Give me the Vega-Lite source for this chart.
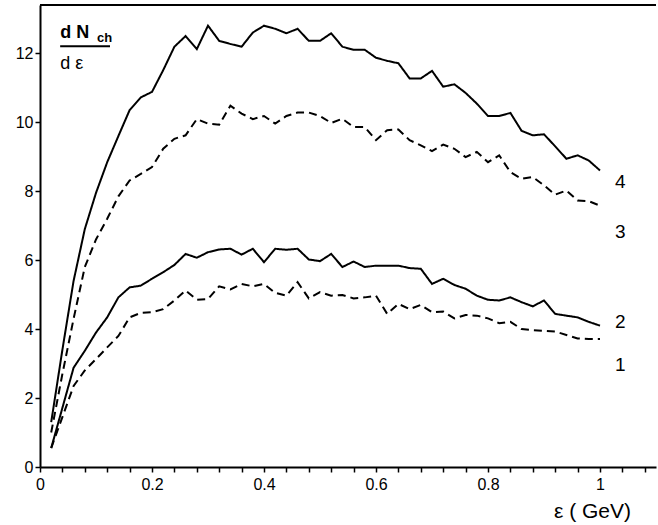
{
  "$schema": "https://vega.github.io/schema/vega-lite/v6.json",
  "width": 616,
  "height": 462,
  "autosize": "none",
  "padding": {"left": 40, "top": 5, "right": 2, "bottom": 58},
  "background": "white",
  "config": {
    "view": {"stroke": null},
    "font": "Liberation Sans",
    "axis": {
      "grid": false,
      "domainColor": "black",
      "domainWidth": 2,
      "tickColor": "black",
      "tickWidth": 1.5,
      "tickSize": 5,
      "labelFont": "Liberation Sans",
      "labelFontSize": 16,
      "labelColor": "black",
      "labelFlush": false
    }
  },
  "datasets": {
    "curves": [
      {"s": "4", "x": 0.02, "y": 1.3}, {"s": "4", "x": 0.04, "y": 3.4}, {"s": "4", "x": 0.06, "y": 5.4}, {"s": "4", "x": 0.08, "y": 6.9}, {"s": "4", "x": 0.10, "y": 7.95}, {"s": "4", "x": 0.12, "y": 8.84}, {"s": "4", "x": 0.14, "y": 9.6}, {"s": "4", "x": 0.16, "y": 10.35}, {"s": "4", "x": 0.18, "y": 10.72}, {"s": "4", "x": 0.20, "y": 10.88},
      {"s": "4", "x": 0.22, "y": 11.51}, {"s": "4", "x": 0.24, "y": 12.19}, {"s": "4", "x": 0.26, "y": 12.5}, {"s": "4", "x": 0.28, "y": 12.12}, {"s": "4", "x": 0.30, "y": 12.8}, {"s": "4", "x": 0.32, "y": 12.36}, {"s": "4", "x": 0.34, "y": 12.27}, {"s": "4", "x": 0.36, "y": 12.19}, {"s": "4", "x": 0.38, "y": 12.6}, {"s": "4", "x": 0.40, "y": 12.8},
      {"s": "4", "x": 0.42, "y": 12.71}, {"s": "4", "x": 0.44, "y": 12.58}, {"s": "4", "x": 0.46, "y": 12.71}, {"s": "4", "x": 0.48, "y": 12.36}, {"s": "4", "x": 0.50, "y": 12.36}, {"s": "4", "x": 0.52, "y": 12.58}, {"s": "4", "x": 0.54, "y": 12.19}, {"s": "4", "x": 0.56, "y": 12.1}, {"s": "4", "x": 0.58, "y": 12.1}, {"s": "4", "x": 0.60, "y": 11.87},
      {"s": "4", "x": 0.62, "y": 11.78}, {"s": "4", "x": 0.64, "y": 11.71}, {"s": "4", "x": 0.66, "y": 11.27}, {"s": "4", "x": 0.68, "y": 11.27}, {"s": "4", "x": 0.70, "y": 11.49}, {"s": "4", "x": 0.72, "y": 11.03}, {"s": "4", "x": 0.74, "y": 11.1}, {"s": "4", "x": 0.76, "y": 10.85}, {"s": "4", "x": 0.78, "y": 10.54}, {"s": "4", "x": 0.80, "y": 10.18},
      {"s": "4", "x": 0.82, "y": 10.18}, {"s": "4", "x": 0.84, "y": 10.27}, {"s": "4", "x": 0.86, "y": 9.75}, {"s": "4", "x": 0.88, "y": 9.62}, {"s": "4", "x": 0.90, "y": 9.65}, {"s": "4", "x": 0.92, "y": 9.3}, {"s": "4", "x": 0.94, "y": 8.94}, {"s": "4", "x": 0.96, "y": 9.04}, {"s": "4", "x": 0.98, "y": 8.89}, {"s": "4", "x": 1.00, "y": 8.6},

      {"s": "3", "x": 0.02, "y": 1.0}, {"s": "3", "x": 0.04, "y": 2.7}, {"s": "3", "x": 0.06, "y": 4.3}, {"s": "3", "x": 0.08, "y": 5.8}, {"s": "3", "x": 0.10, "y": 6.6}, {"s": "3", "x": 0.12, "y": 7.2}, {"s": "3", "x": 0.14, "y": 7.85}, {"s": "3", "x": 0.16, "y": 8.31}, {"s": "3", "x": 0.18, "y": 8.5}, {"s": "3", "x": 0.20, "y": 8.7},
      {"s": "3", "x": 0.22, "y": 9.23}, {"s": "3", "x": 0.24, "y": 9.52}, {"s": "3", "x": 0.26, "y": 9.62}, {"s": "3", "x": 0.28, "y": 10.09}, {"s": "3", "x": 0.30, "y": 9.96}, {"s": "3", "x": 0.32, "y": 9.93}, {"s": "3", "x": 0.34, "y": 10.48}, {"s": "3", "x": 0.36, "y": 10.25}, {"s": "3", "x": 0.38, "y": 10.09}, {"s": "3", "x": 0.40, "y": 10.18},
      {"s": "3", "x": 0.42, "y": 9.96}, {"s": "3", "x": 0.44, "y": 10.18}, {"s": "3", "x": 0.46, "y": 10.28}, {"s": "3", "x": 0.48, "y": 10.28}, {"s": "3", "x": 0.50, "y": 10.18}, {"s": "3", "x": 0.52, "y": 9.98}, {"s": "3", "x": 0.54, "y": 10.1}, {"s": "3", "x": 0.56, "y": 9.86}, {"s": "3", "x": 0.58, "y": 9.86}, {"s": "3", "x": 0.60, "y": 9.48},
      {"s": "3", "x": 0.62, "y": 9.77}, {"s": "3", "x": 0.64, "y": 9.79}, {"s": "3", "x": 0.66, "y": 9.48}, {"s": "3", "x": 0.68, "y": 9.33}, {"s": "3", "x": 0.70, "y": 9.16}, {"s": "3", "x": 0.72, "y": 9.35}, {"s": "3", "x": 0.74, "y": 9.23}, {"s": "3", "x": 0.76, "y": 8.99}, {"s": "3", "x": 0.78, "y": 9.14}, {"s": "3", "x": 0.80, "y": 8.84},
      {"s": "3", "x": 0.82, "y": 9.04}, {"s": "3", "x": 0.84, "y": 8.55}, {"s": "3", "x": 0.86, "y": 8.36}, {"s": "3", "x": 0.88, "y": 8.41}, {"s": "3", "x": 0.90, "y": 8.17}, {"s": "3", "x": 0.92, "y": 7.9}, {"s": "3", "x": 0.94, "y": 8.02}, {"s": "3", "x": 0.96, "y": 7.73}, {"s": "3", "x": 0.98, "y": 7.71}, {"s": "3", "x": 1.00, "y": 7.58},

      {"s": "2", "x": 0.02, "y": 0.55}, {"s": "2", "x": 0.06, "y": 2.88}, {"s": "2", "x": 0.08, "y": 3.37}, {"s": "2", "x": 0.10, "y": 3.9}, {"s": "2", "x": 0.12, "y": 4.34}, {"s": "2", "x": 0.14, "y": 4.92}, {"s": "2", "x": 0.16, "y": 5.21}, {"s": "2", "x": 0.18, "y": 5.26}, {"s": "2", "x": 0.20, "y": 5.46},
      {"s": "2", "x": 0.22, "y": 5.65}, {"s": "2", "x": 0.24, "y": 5.86}, {"s": "2", "x": 0.26, "y": 6.18}, {"s": "2", "x": 0.28, "y": 6.07}, {"s": "2", "x": 0.30, "y": 6.23}, {"s": "2", "x": 0.32, "y": 6.31}, {"s": "2", "x": 0.34, "y": 6.33}, {"s": "2", "x": 0.36, "y": 6.16}, {"s": "2", "x": 0.38, "y": 6.33}, {"s": "2", "x": 0.40, "y": 5.94},
      {"s": "2", "x": 0.42, "y": 6.33}, {"s": "2", "x": 0.44, "y": 6.3}, {"s": "2", "x": 0.46, "y": 6.33}, {"s": "2", "x": 0.48, "y": 6.02}, {"s": "2", "x": 0.50, "y": 5.97}, {"s": "2", "x": 0.52, "y": 6.18}, {"s": "2", "x": 0.54, "y": 5.8}, {"s": "2", "x": 0.56, "y": 5.96}, {"s": "2", "x": 0.58, "y": 5.8}, {"s": "2", "x": 0.60, "y": 5.84},
      {"s": "2", "x": 0.62, "y": 5.84}, {"s": "2", "x": 0.64, "y": 5.84}, {"s": "2", "x": 0.66, "y": 5.77}, {"s": "2", "x": 0.68, "y": 5.75}, {"s": "2", "x": 0.70, "y": 5.31}, {"s": "2", "x": 0.72, "y": 5.46}, {"s": "2", "x": 0.74, "y": 5.28}, {"s": "2", "x": 0.76, "y": 5.17}, {"s": "2", "x": 0.78, "y": 4.97}, {"s": "2", "x": 0.80, "y": 4.85},
      {"s": "2", "x": 0.82, "y": 4.83}, {"s": "2", "x": 0.84, "y": 4.92}, {"s": "2", "x": 0.86, "y": 4.78}, {"s": "2", "x": 0.88, "y": 4.66}, {"s": "2", "x": 0.90, "y": 4.83}, {"s": "2", "x": 0.92, "y": 4.44}, {"s": "2", "x": 0.94, "y": 4.39}, {"s": "2", "x": 0.96, "y": 4.34}, {"s": "2", "x": 0.98, "y": 4.21}, {"s": "2", "x": 1.00, "y": 4.1},

      {"s": "1", "x": 0.02, "y": 0.55}, {"s": "1", "x": 0.06, "y": 2.35}, {"s": "1", "x": 0.08, "y": 2.8}, {"s": "1", "x": 0.10, "y": 3.13}, {"s": "1", "x": 0.12, "y": 3.47}, {"s": "1", "x": 0.14, "y": 3.8}, {"s": "1", "x": 0.16, "y": 4.34}, {"s": "1", "x": 0.18, "y": 4.47}, {"s": "1", "x": 0.20, "y": 4.49},
      {"s": "1", "x": 0.22, "y": 4.58}, {"s": "1", "x": 0.24, "y": 4.83}, {"s": "1", "x": 0.26, "y": 5.12}, {"s": "1", "x": 0.28, "y": 4.85}, {"s": "1", "x": 0.30, "y": 4.87}, {"s": "1", "x": 0.32, "y": 5.24}, {"s": "1", "x": 0.34, "y": 5.15}, {"s": "1", "x": 0.36, "y": 5.31}, {"s": "1", "x": 0.38, "y": 5.24}, {"s": "1", "x": 0.40, "y": 5.31},
      {"s": "1", "x": 0.42, "y": 5.05}, {"s": "1", "x": 0.44, "y": 4.97}, {"s": "1", "x": 0.46, "y": 5.36}, {"s": "1", "x": 0.48, "y": 4.89}, {"s": "1", "x": 0.50, "y": 5.07}, {"s": "1", "x": 0.52, "y": 4.97}, {"s": "1", "x": 0.54, "y": 4.99}, {"s": "1", "x": 0.56, "y": 4.89}, {"s": "1", "x": 0.58, "y": 4.92}, {"s": "1", "x": 0.60, "y": 4.97},
      {"s": "1", "x": 0.62, "y": 4.44}, {"s": "1", "x": 0.64, "y": 4.73}, {"s": "1", "x": 0.66, "y": 4.58}, {"s": "1", "x": 0.68, "y": 4.7}, {"s": "1", "x": 0.70, "y": 4.49}, {"s": "1", "x": 0.72, "y": 4.51}, {"s": "1", "x": 0.74, "y": 4.31}, {"s": "1", "x": 0.76, "y": 4.41}, {"s": "1", "x": 0.78, "y": 4.39}, {"s": "1", "x": 0.80, "y": 4.31},
      {"s": "1", "x": 0.82, "y": 4.17}, {"s": "1", "x": 0.84, "y": 4.21}, {"s": "1", "x": 0.86, "y": 4.0}, {"s": "1", "x": 0.88, "y": 3.97}, {"s": "1", "x": 0.90, "y": 3.95}, {"s": "1", "x": 0.92, "y": 3.93}, {"s": "1", "x": 0.94, "y": 3.83}, {"s": "1", "x": 0.96, "y": 3.73}, {"s": "1", "x": 0.98, "y": 3.71}, {"s": "1", "x": 1.00, "y": 3.71}
    ],
    "curveLabels": [
      {"label": "4", "x": 1.036, "y": 8.26},
      {"label": "3", "x": 1.036, "y": 6.82},
      {"label": "2", "x": 1.036, "y": 4.21},
      {"label": "1", "x": 1.036, "y": 2.95}
    ],
    "one": [{}]
  },
  "resolve": {"axis": {"x": "independent"}},
  "layer": [
    {
      "data": {"name": "curves"},
      "mark": {"type": "line", "color": "black", "strokeWidth": 2},
      "encoding": {
        "x": {
          "field": "x", "type": "quantitative",
          "scale": {"domain": [0, 1.1], "nice": false, "zero": false},
          "axis": {
            "orient": "bottom",
            "values": [0, 0.04, 0.08, 0.12, 0.16, 0.2, 0.24, 0.28, 0.32, 0.36, 0.4, 0.44, 0.48, 0.52, 0.56, 0.6, 0.64, 0.68, 0.72, 0.76, 0.8, 0.84, 0.88, 0.92, 0.96, 1, 1.04, 1.08],
            "labels": false,
            "title": "ε ( GeV)",
            "titleFont": "Liberation Sans",
            "titleFontSize": 21,
            "titleFontWeight": "normal",
            "titleColor": "black",
            "titleAlign": "center",
            "titleBaseline": "alphabetic",
            "titleX": 552,
            "titleY": 50
          }
        },
        "y": {
          "field": "y", "type": "quantitative",
          "scale": {"domain": [0, 13.4], "nice": false, "zero": true},
          "axis": {
            "values": [0, 0.5, 1, 1.5, 2, 2.5, 3, 3.5, 4, 4.5, 5, 5.5, 6, 6.5, 7, 7.5, 8, 8.5, 9, 9.5, 10, 10.5, 11, 11.5, 12, 12.5, 13],
            "labelExpr": "datum.value % 2 == 0 ? datum.label : ''",
            "labelOverlap": false,
            "labelPadding": 2,
            "title": null
          }
        },
        "detail": {"field": "s"},
        "strokeDash": {
          "field": "s", "type": "nominal",
          "scale": {"domain": ["1", "2", "3", "4"], "range": [[8, 5], [1, 0], [8, 5], [1, 0]]},
          "legend": null
        }
      }
    },
    {
      "data": {"name": "curveLabels"},
      "mark": {"type": "text", "font": "Liberation Sans", "fontSize": 19, "color": "black", "align": "center", "baseline": "middle"},
      "encoding": {
        "x": {
          "field": "x", "type": "quantitative",
          "axis": {
            "orient": "bottom",
            "values": [0, 0.2, 0.4, 0.6, 0.8, 1],
            "format": "~g",
            "domain": false,
            "ticks": true,
            "tickOpacity": 0,
            "labelPadding": 4,
            "labelOverlap": false,
            "title": null
          }
        },
        "y": {"field": "y", "type": "quantitative"},
        "text": {"field": "label"}
      }
    },
    {
      "data": {"name": "one"},
      "mark": {"type": "rule", "color": "black", "strokeWidth": 2},
      "encoding": {"y": {"datum": 13.4}}
    },
    {
      "data": {"name": "one"},
      "mark": {"type": "text", "text": "d N", "font": "Liberation Sans", "fontSize": 18, "fontWeight": "bold", "color": "black", "align": "left", "baseline": "middle"},
      "encoding": {"x": {"datum": 0.036, "axis": null}, "y": {"datum": 12.58}}
    },
    {
      "data": {"name": "one"},
      "mark": {"type": "text", "text": "ch", "font": "Liberation Sans", "fontSize": 13, "fontWeight": "bold", "color": "black", "align": "left", "baseline": "middle"},
      "encoding": {"x": {"datum": 0.102, "axis": null}, "y": {"datum": 12.45}}
    },
    {
      "data": {"name": "one"},
      "mark": {"type": "rule", "color": "black", "strokeWidth": 2},
      "encoding": {"x": {"datum": 0.036, "axis": null}, "x2": {"datum": 0.125}, "y": {"datum": 12.2}}
    },
    {
      "data": {"name": "one"},
      "mark": {"type": "text", "text": "d ε", "font": "Liberation Sans", "fontSize": 18, "color": "black", "align": "left", "baseline": "middle"},
      "encoding": {"x": {"datum": 0.036, "axis": null}, "y": {"datum": 11.7}}
    }
  ]
}
